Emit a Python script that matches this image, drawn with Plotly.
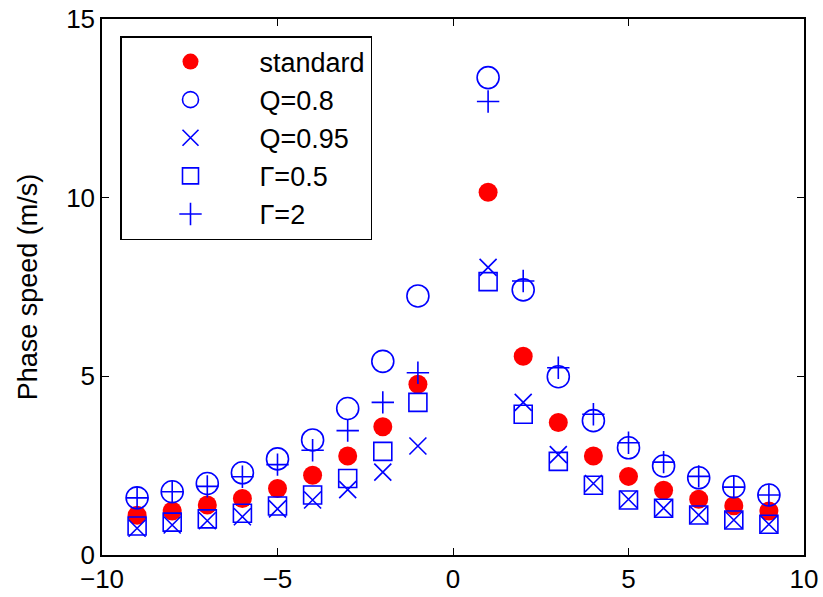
import plotly.graph_objects as go

x_vals = [-9, -8, -7, -6, -5, -4, -3, -2, -1, 1, 2, 3, 4, 5, 6, 7, 8, 9]
standard = [1.11, 1.23, 1.40, 1.58, 1.86, 2.23, 2.77, 3.59, 4.78, 10.15, 5.56, 3.71, 2.77, 2.20, 1.81, 1.56, 1.38, 1.23]
q_08 = [1.60, 1.77, 2.00, 2.30, 2.69, 3.22, 4.10, 5.42, 7.25, 13.36, 7.42, 4.99, 3.76, 3.00, 2.49, 2.16, 1.91, 1.68]
q_095 = [0.75, 0.84, 0.96, 1.07, 1.29, 1.54, 1.83, 2.32, 3.05, 8.05, 4.27, 2.81, 2.00, 1.56, 1.31, 1.12, 0.98, 0.86]
g_05 = [0.81, 0.92, 1.01, 1.17, 1.37, 1.68, 2.14, 2.90, 4.27, 7.65, 3.94, 2.62, 1.95, 1.54, 1.31, 1.12, 0.98, 0.86]
g_2 = [1.60, 1.77, 1.92, 2.19, 2.53, 2.93, 3.48, 4.27, 5.10, 12.69, 7.67, 5.24, 3.94, 3.14, 2.60, 2.20, 1.90, 1.68]

names = ["standard", "Q=0.8", "Q=0.95", "Γ=0.5", "Γ=2"]
x_ticks = [-10, -5, 0, 5, 10]
y_ticks = [0, 5, 10, 15]

blue = "#0000ff"
red = "#ff0000"
FONT = "Liberation Sans, Arial, Helvetica, sans-serif"

fig = go.Figure()
fig.add_trace(go.Scatter(x=x_vals, y=standard, mode="markers", name=names[0],
                         marker=dict(symbol="circle", size=19, color=red, line=dict(width=0))))
fig.add_trace(go.Scatter(x=x_vals, y=q_08, mode="markers", name=names[1],
                         marker=dict(symbol="circle-open", size=22, color=blue, line=dict(width=1.6))))
fig.add_trace(go.Scatter(x=x_vals, y=q_095, mode="markers", name=names[2],
                         marker=dict(symbol="x-thin-open", size=17, color=blue, line=dict(width=1.6, color=blue))))
fig.add_trace(go.Scatter(x=x_vals, y=g_05, mode="markers", name=names[3],
                         marker=dict(symbol="square-open", size=18, color=blue, line=dict(width=1.6))))
fig.add_trace(go.Scatter(x=x_vals, y=g_2, mode="markers", name=names[4],
                         marker=dict(symbol="cross-thin-open", size=16, color=blue, line=dict(width=1.6, color=blue))))

axis_common = dict(
    showgrid=False, zeroline=False, showline=True, linecolor="black", linewidth=1.5,
    mirror="ticks", ticks="inside", ticklen=7, tickwidth=1, tickcolor="black",
    tickfont=dict(family=FONT, size=26, color="black"), automargin=False,
    ticklabeloverflow="allow",
)

fig.update_layout(
    width=823, height=597,
    margin=dict(l=102, r=19, t=19, b=42),
    paper_bgcolor="white", plot_bgcolor="white",
    font=dict(family=FONT, size=26, color="black"),
    xaxis=dict(range=[-10, 10], tickvals=x_ticks, **axis_common),
    yaxis=dict(range=[0, 15], tickvals=y_ticks,
               title=dict(text="Phase speed (m/s)", font=dict(size=27), standoff=21), **axis_common),
    legend=dict(x=18 / 702, y=(536 - 17) / 536, xanchor="left", yanchor="top",
                bordercolor="black", borderwidth=1.5, bgcolor="white",
                font=dict(family=FONT, size=27), itemwidth=128, itemsizing="trace",
                entrywidth=125, entrywidthmode="pixels"),
)

# remove the default 8px body margin so the figure fills the 823x597 window exactly
fig.write_html("out.html", config={"displayModeBar": False},
               post_script="document.body.style.margin='0px';")
